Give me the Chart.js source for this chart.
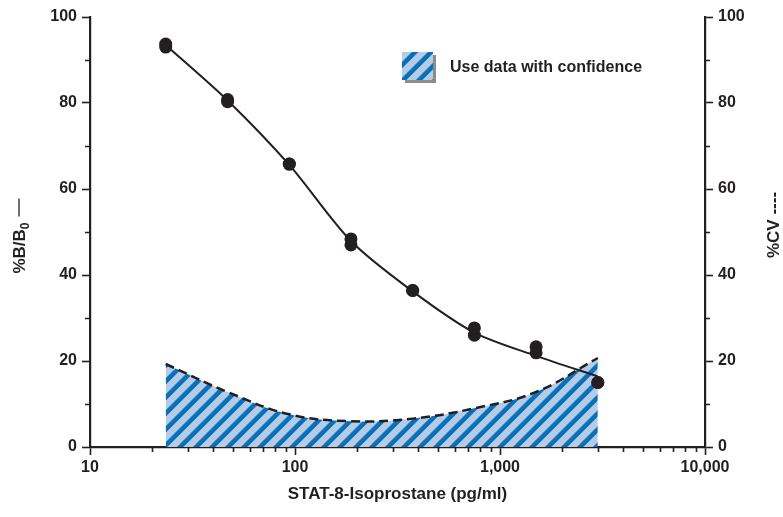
<!DOCTYPE html>
<html>
<head>
<meta charset="utf-8">
<style>
  html, body { margin: 0; padding: 0; background: #ffffff; }
  canvas { display: block; }
</style>
<script src="https://cdn.jsdelivr.net/npm/chart.js@4.4.1/dist/chart.umd.min.js"></script>
</head>
<body>
<canvas id="chart" width="783" height="517"></canvas>
<script>
// Standard concentrations (pg/ml), two replicate wells each
const concentrations = [23.4, 46.9, 93.8, 187.5, 375, 750, 1500, 3000];
const replicateA = [93.0, 80.3, 65.8, 48.4, 36.4, 27.7, 23.3, 15.0];
const replicateB = [93.7, 80.8, 65.8, 47.0, 36.4, 26.0, 21.9, 15.0];
// Fitted %B/B0 standard curve
const fittedBB0 = [93.5, 80.6, 65.6, 47.9, 36.2, 26.6, 21.2, 16.4];
// Intra-assay %CV at each standard
const cvPercent = [19.3, 12.8, 7.6, 6.0, 6.6, 9.0, 12.8, 20.7];

// Axis ticks
const xTickValues = [10, 20, 30, 40, 50, 60, 70, 80, 90,
                     100, 200, 300, 400, 500, 600, 700, 800, 900,
                     1000, 2000, 3000, 4000, 5000, 6000, 7000, 8000, 9000, 10000];
const xTickLabels = { 10: '10', 100: '100', 1000: '1,000', 10000: '10,000' };
const yTickLabels = [0, 20, 40, 60, 80, 100];

const INK = '#231f20';
const FONT = "'Liberation Sans', Arial, Helvetica, sans-serif";
const MAJOR_TICK = 8, MINOR_TICK = 4;

// Diagonal "/" stripes, built pixel by pixel so the tile repeats without seams
function makeHatch() {
  const s = 16, dark = 6.5;
  const light = [181, 204, 232], blue = [10, 113, 185];
  const c = document.createElement('canvas');
  c.width = s; c.height = s;
  const g = c.getContext('2d');
  const img = g.createImageData(s, s);
  const sub = 4;
  for (let y = 0; y < s; y++) {
    for (let x = 0; x < s; x++) {
      let cover = 0;
      for (let j = 0; j < sub; j++) {
        for (let i = 0; i < sub; i++) {
          const u = (x + (i + 0.5) / sub + y + (j + 0.5) / sub) % s;
          if (u < dark) cover++;
        }
      }
      const t = cover / (sub * sub);
      const k = (y * s + x) * 4;
      for (let ch = 0; ch < 3; ch++) img.data[k + ch] = Math.round(light[ch] * (1 - t) + blue[ch] * t);
      img.data[k + 3] = 255;
    }
  }
  g.putImageData(img, 0, 0);
  return g.createPattern(c, 'repeat');
}
const hatch = makeHatch();

const pts = (ys) => concentrations.map((x, i) => ({ x, y: ys[i] }));
const isMajorX = (v) => xTickLabels[v] !== undefined;
const isMajorY = (v) => yTickLabels.includes(v);

// Short minor tick marks on the three axes
const minorTicks = {
  id: 'minorTicks',
  afterDraw(chart) {
    const ctx = chart.ctx;
    const { x, y, y1 } = chart.scales;
    ctx.save();
    ctx.strokeStyle = INK;
    ctx.lineWidth = 1.6;
    ctx.beginPath();
    x.ticks.forEach((t) => {
      if (isMajorX(t.value)) return;
      const px = Math.round(x.getPixelForValue(t.value)) + 0.5;
      ctx.moveTo(px, x.top);
      ctx.lineTo(px, x.top + MINOR_TICK + 1);
    });
    y.ticks.forEach((t) => {
      if (isMajorY(t.value)) return;
      const py = Math.round(y.getPixelForValue(t.value)) + 0.5;
      ctx.moveTo(y.right, py);
      ctx.lineTo(y.right - MINOR_TICK - 1, py);
      ctx.moveTo(y1.left, py);
      ctx.lineTo(y1.left + MINOR_TICK + 1, py);
    });
    ctx.stroke();
    ctx.restore();
  }
};

// Titles and the legend entry drawn on top of the chart
const decorations = {
  id: 'decorations',
  afterDraw(chart) {
    const ctx = chart.ctx;
    const area = chart.chartArea;
    const midY = (area.top + area.bottom) / 2;
    ctx.save();
    ctx.fillStyle = INK;
    ctx.strokeStyle = INK;

    // x axis title
    ctx.font = `bold 17px ${FONT}`;
    ctx.textAlign = 'center';
    ctx.textBaseline = 'middle';
    ctx.fillText('STAT-8-Isoprostane (pg/ml)', (area.left + area.right) / 2, 494);

    // left title: %B/B0 with a solid-line key
    ctx.save();
    ctx.translate(25, midY + 4);
    ctx.rotate(-Math.PI / 2);
    ctx.textAlign = 'left';
    ctx.textBaseline = 'alphabetic';
    const main = '%B/B';
    ctx.font = `bold 17px ${FONT}`;
    const wMain = ctx.measureText(main).width;
    ctx.font = `bold 12px ${FONT}`;
    const wSub = ctx.measureText('0').width;
    const lineLen = 18, gap = 6;
    const total = wMain + wSub + gap + lineLen;
    const x0 = -total / 2;
    ctx.font = `bold 17px ${FONT}`;
    ctx.fillText(main, x0, 0);
    ctx.font = `bold 12px ${FONT}`;
    ctx.fillText('0', x0 + wMain, 4);
    ctx.lineWidth = 1.3;
    ctx.beginPath();
    ctx.moveTo(x0 + wMain + wSub + gap, -6);
    ctx.lineTo(x0 + total, -6);
    ctx.stroke();
    ctx.restore();

    // right title: %CV with a dashed key
    ctx.save();
    ctx.translate(779, midY - 7);
    ctx.rotate(-Math.PI / 2);
    ctx.textAlign = 'center';
    ctx.textBaseline = 'alphabetic';
    ctx.font = `bold 17px ${FONT}`;
    ctx.fillText('%CV ----', 0, 0);
    ctx.restore();

    // legend entry
    const bx = 402, by = 52, bw = 31, bh = 28;
    ctx.fillStyle = '#8c8c8c';
    ctx.fillRect(bx + 3, by + 3, bw, bh);
    ctx.fillStyle = hatch;
    ctx.fillRect(bx, by, bw, bh);
    ctx.fillStyle = INK;
    ctx.font = `bold 16px ${FONT}`;
    ctx.textAlign = 'left';
    ctx.textBaseline = 'middle';
    ctx.fillText('Use data with confidence', 450, 68);
    ctx.restore();
  }
};

const gridFor = (isMajor) => ({
  drawOnChartArea: false,
  drawTicks: true,
  tickLength: MAJOR_TICK,
  tickColor: (c) => (c.tick && isMajor(c.tick.value) ? INK : 'rgba(0,0,0,0)'),
  tickWidth: 1.6
});
const axisBorder = { display: true, color: INK, width: 2.2 };
const tickFont = { family: FONT, size: 16, weight: 'bold' };

const yAxis = (position, width) => ({
  type: 'linear',
  position,
  min: 0,
  max: 100,
  afterFit(scale) { scale.width = width; },
  grid: gridFor(isMajorY),
  border: axisBorder,
  ticks: {
    stepSize: 10,
    padding: 5,
    color: INK,
    font: tickFont,
    callback: (v) => (isMajorY(v) ? String(v) : '')
  }
});

new Chart(document.getElementById('chart'), {
  type: 'line',
  data: {
    datasets: [
      {
        label: 'Replicate A',
        data: pts(replicateA),
        showLine: false,
        pointRadius: 6.5,
        pointBackgroundColor: INK,
        pointBorderWidth: 0,
        order: 0
      },
      {
        label: 'Replicate B',
        data: pts(replicateB),
        showLine: false,
        pointRadius: 6.5,
        pointBackgroundColor: INK,
        pointBorderWidth: 0,
        order: 0
      },
      {
        label: '%B/B0',
        data: pts(fittedBB0),
        borderColor: INK,
        borderWidth: 2,
        pointRadius: 0,
        tension: 0.3,
        fill: false,
        order: 1
      },
      {
        label: '%CV',
        data: pts(cvPercent),
        yAxisID: 'y1',
        borderColor: INK,
        borderWidth: 2.5,
        borderDash: [9, 5],
        pointRadius: 0,
        tension: 0.4,
        fill: 'origin',
        backgroundColor: hatch,
        order: 2
      }
    ]
  },
  options: {
    responsive: false,
    animation: false,
    devicePixelRatio: 1,
    layout: { padding: { top: 17, left: 0, right: 0, bottom: 0 } },
    plugins: {
      legend: { display: false },
      tooltip: { enabled: false }
    },
    scales: {
      x: {
        type: 'logarithmic',
        min: 10,
        max: 10000,
        afterBuildTicks(scale) {
          scale.ticks = xTickValues.map((v) => ({ value: v }));
        },
        afterFit(scale) { scale.height = 70; },
        grid: gridFor(isMajorX),
        border: axisBorder,
        ticks: {
          autoSkip: false,
          maxRotation: 0,
          padding: 3,
          color: INK,
          font: tickFont,
          callback: (v) => xTickLabels[v] ?? ''
        }
      },
      y: yAxis('left', 90),
      y1: yAxis('right', 78)
    }
  },
  plugins: [minorTicks, decorations]
});
</script>
</body>
</html>
